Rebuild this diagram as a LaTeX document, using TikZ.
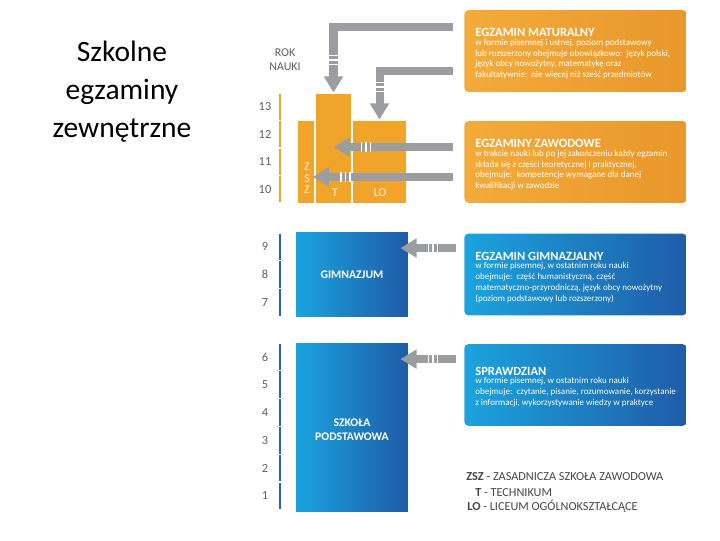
\documentclass[tikz,border=0pt]{standalone}
\usepackage{fontspec}
\setmainfont{Carlito}
\usetikzlibrary{arrows.meta,positioning,decorations.markings}
\definecolor{exorange}{RGB}{241,164,42}
\definecolor{exorangeL}{RGB}{243,171,58}
\definecolor{exorangeD}{RGB}{233,151,42}
\definecolor{exblueL}{RGB}{27,163,222}
\definecolor{exblueD}{RGB}{31,92,168}
\definecolor{exaxisblue}{RGB}{30,105,175}
\definecolor{exgray}{RGB}{156,157,161}
\definecolor{lblgray}{RGB}{95,95,95}
\definecolor{lgdgray}{RGB}{70,70,70}
\definecolor{zszcream}{RGB}{255,238,205}
\newcommand{\exstripe}{\fill[white] (-0.45pt,-3.3pt) rectangle (0.45pt,3.3pt);}
\tikzset{
  exbox/.style 2 args={rounded corners=2.8pt, left color=#1, right color=#2,
                       minimum width=158pt, minimum height=58.1pt, inner sep=0pt},
  extext/.style={anchor=west, align=left, text=white, inner sep=0pt,
                 font=\fontsize{6.4}{7.7}\selectfont},
  oblock/.style={fill=exorange, draw=white, line width=0.8pt, inner sep=0pt},
  bblock/.style={left color=exblueL, right color=exblueD, inner sep=0pt},
  blklbl/.style={text=white, font=\bfseries\fontsize{8.3}{10}\selectfont, inner sep=0pt},
  zszlbl/.style={text=zszcream, font=\fontsize{8.5}{8.2}\selectfont, inner sep=0pt},
  yearline/.style={draw=#1, line width=1.6pt},
  yearlbl/.style={text=lblgray, font=\fontsize{8.8}{10}\selectfont, inner sep=0pt},
  lgd/.style={anchor=west, text=lgdgray, font=\fontsize{8.7}{10}\selectfont, inner sep=0pt},
  exarrow/.style={draw=exgray, line width=5.7pt, -{Triangle[width=13pt,length=11.5pt]},
                  postaction={decorate},
                  decoration={markings, mark=at position -20pt with {\exstripe},
                              mark=at position -23.2pt with {\exstripe},
                              mark=at position -26.4pt with {\exstripe}}},
}
\newcommand{\exhead}[1]{{\bfseries\fontsize{8.9}{10}\selectfont #1}}
\begin{document}
\begin{tikzpicture}[x=0.025cm, y=-0.025cm]
\useasboundingbox (0,0) rectangle (720,540);
% Title
\node[align=center, inner sep=0pt, font=\fontsize{21}{27}\selectfont] (title) at (122,92) {Szkolne\\egzaminy\\zewnętrzne};
% Year axis
\node[yearlbl, align=center, font=\fontsize{8.5}{10}\selectfont] (rok) at (285,60) {ROK\\NAUKI};
\foreach \yr/\top in {13/93,12/120.5,11/148,10/175.5}{
  \draw[yearline=exorange] (280,\top+0.6) -- (280,\top+26.9);
  \node[yearlbl] (y\yr) at (265,\top+13.75) {\yr};
}
\foreach \yr/\top in {9/233,8/260.7,7/288.3,6/343,5/370.8,4/398.6,3/426.4,2/454.2,1/482}{
  \draw[yearline=exaxisblue] (280,\top+0.6) -- (280,\top+27.2);
  \node[yearlbl] (y\yr) at (265,\top+13.9) {\yr};
}
% Schools
\node[oblock, minimum width=12.8pt, minimum height=59.5pt] (zsz) at (306,162) {};
\node[oblock, minimum width=39pt, minimum height=59.5pt] (lo) at (379.5,162) {};
\node[oblock, minimum width=26.2pt, minimum height=78.7pt] (tech) at (333.5,148.5) {};
\node[bblock, minimum width=79.4pt, minimum height=60.2pt] (gimn) at (352,274.5) {};
\node[bblock, minimum width=79.4pt, minimum height=119.8pt] (podst) at (352,427.5) {};
\node[zszlbl, align=center] (zszLbl) at (307,178.5) {Z\\S\\Z};
\node[zszlbl] (techLbl) at (335,193) {T};
\node[zszlbl] (loLbl) at (380,193) {LO};
\node[blklbl] (gimnLbl) at (gimn) {GIMNAZJUM};
\node[blklbl, align=center] (podstLbl) at (352,430) {SZKOŁA\\PODSTAWOWA};
% Exams
\node[exbox={exorangeL}{exorangeD}] (matura) at (575.5,51) {};
\node[extext] (maturaTxt) at ([xshift=7.8pt,yshift=-2pt]matura.west) {%
\exhead{EGZAMIN MATURALNY}\\[-1.5pt]
w formie pisemnej i ustnej, poziom podstawowy\\
lub rozszerzony obejmuje obowiązkowo:\ \ język polski,\\
język obcy nowożytny, matematykę oraz\\
fakultatywnie:\ \ nie więcej niż sześć przedmiotów};
\node[exbox={exorangeL}{exorangeD}] (zawod) at (575.5,162) {};
\node[extext] (zawodTxt) at ([xshift=7.8pt,yshift=-2pt]zawod.west) {%
\exhead{EGZAMINY ZAWODOWE}\\[-1.5pt]
w trakcie nauki lub po jej zakończeniu każdy egzamin\\
składa się z części teoretycznej i praktycznej,\\
obejmuje:\ \ kompetencje wymagane dla danej\\
kwalifikacji w zawodzie};
\node[exbox={exblueL}{exblueD}] (gimnEx) at (575.5,274.5) {};
\node[extext] (gimnExTxt) at ([xshift=7.8pt,yshift=-2pt]gimnEx.west) {%
\exhead{EGZAMIN GIMNAZJALNY}\\[-1.5pt]
w formie pisemnej, w ostatnim roku nauki\\
obejmuje:\ \ część humanistyczną, część\\
matematyczno-przyrodniczą, język obcy nowożytny\\
(poziom podstawowy lub rozszerzony)};
\node[exbox={exblueL}{exblueD}] (spraw) at (575.5,385) {};
\node[extext] (sprawTxt) at ([xshift=7.8pt,yshift=-1.5pt]spraw.west) {%
\exhead{SPRAWDZIAN}\\[-1.5pt]
w formie pisemnej, w ostatnim roku nauki\\
obejmuje:\ \ czytanie, pisanie, rozumowanie, korzystanie\\
z informacji, wykorzystywanie wiedzy w praktyce};
% Arrows
\coordinate (a1) at ([xshift=-7.8pt,yshift=17pt]matura.west);
\coordinate (a2) at ([xshift=-7.8pt,yshift=-14.2pt]matura.west);
\coordinate (a3) at ([xshift=-7.8pt,yshift=10.6pt]zawod.west);
\coordinate (a4) at ([xshift=-7.8pt,yshift=-10.6pt]zawod.west);
\coordinate (a5) at ([xshift=-5.7pt,yshift=18.8pt]gimnEx.west);
\coordinate (a6) at ([xshift=-5.7pt,yshift=18.4pt]spraw.west);
\draw[exarrow] (a1) -| (tech.north);
\draw[exarrow] (a2) -| (lo.north);
\draw[exarrow] (a3) -- (a3 -| tech.center);
\draw[exarrow] (a4) -- ([xshift=-2pt]a4 -| zsz.east);
\draw[exarrow] (a5) -- ([xshift=-5.5pt]a5 -| gimn.east);
\draw[exarrow] (a6) -- ([xshift=-5.5pt]a6 -| podst.east);
% Legend
\node[lgd] (lgdZsz) at (466,477) {\textbf{ZSZ} - ZASADNICZA SZKOŁA ZAWODOWA};
\node[lgd] (lgdT) at (475,492.5) {\textbf{T} - TECHNIKUM};
\node[lgd] (lgdLo) at (467,506.5) {\textbf{LO} - LICEUM OGÓLNOKSZTAŁCĄCE};
\end{tikzpicture}
\end{document}
